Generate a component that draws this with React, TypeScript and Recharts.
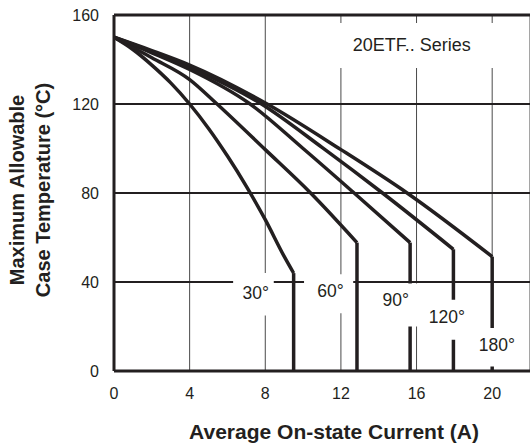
import React from 'react'
import {
  LineChart,
  Line,
  XAxis,
  YAxis,
  CartesianGrid,
  ReferenceArea,
  ReferenceDot,
  ReferenceLine,
} from 'recharts'

// axis ticks
const xTicks = [0, 4, 8, 12, 16, 20]
const yTicks = [0, 40, 80, 120, 160]

// conduction angle series (average current A -> max case temp °C)
const current30 = [0, 1, 2, 3, 4, 5, 6, 7, 8, 9, 9.5]
const temp30 = [150, 144.5, 137.5, 129.5, 120, 109, 96.6, 83, 68, 51.5, 44]

const current60 = [0, 2, 4, 5.45, 8, 10.4, 12.85]
const temp60 = [150, 140.8, 131, 120, 99.5, 80, 57.7]

const current90 = [0, 2, 4, 7.2, 10, 12.7, 15.66]
const temp90 = [150, 143, 135.5, 120, 100, 80, 57.7]

const current120 = [0, 2, 4, 7.8, 11, 14.2, 17.95]
const temp120 = [150, 143.5, 136.5, 120, 100.5, 80, 54.7]

const current180 = [0, 2, 4, 8.1, 12, 15.5, 20]
const temp180 = [150, 144, 137.5, 120, 99.5, 80, 51.4]

const seriesNames = ['30°', '60°', '90°', '120°', '180°']
const seriesTitle = '20ETF.. Series'

const INK = '#231f20'
const FONT = '"Liberation Sans", Arial, Helvetica, sans-serif'

// white boxes behind the in-plot labels (these cut the grid and the drop lines)
const LABEL_BOXES = [
  { x1: 6.3, x2: 8.45, y1: 25, y2: 44 },
  { x1: 10.05, x2: 12.65, y1: 26, y2: 43.5 },
  { x1: 13.7, x2: 16.3, y1: 20, y2: 39.3 },
  { x1: 16.5, x2: 18.7, y1: 14, y2: 32 },
  { x1: 19.1, x2: 21.4, y1: 2, y2: 19.3 },
]
const LABEL_AT = [
  { x: 7.5, y: 35 },
  { x: 11.45, y: 36 },
  { x: 14.9, y: 32 },
  { x: 17.6, y: 24.4 },
  { x: 20.25, y: 11.7 },
]
const TITLE_BOX = { x1: 11.7, x2: 20.6, y1: 136.2, y2: 156.4 }
const TITLE_AT = { x: 15.75, y: 146.5 }

const toPoints = (xs: number[], ys: number[]) => xs.map((x, i) => ({ x, y: ys[i] }))

const series = [
  toPoints(current30, temp30),
  toPoints(current60, temp60),
  toPoints(current90, temp90),
  toPoints(current120, temp120),
  toPoints(current180, temp180),
]

// each curve drops straight down to 0 at its last current value
const drops = series.map(pts => {
  const last = pts[pts.length - 1]
  return [last, { x: last.x, y: 0 }]
})

const YTitle = (props: any) => {
  const vb = props.viewBox || { x: 0, y: 15, width: 114, height: 356 }
  const cy = vb.y + vb.height / 2 - 3
  const lines = ['Maximum Allowable', 'Case Temperature (°C)']
  const xs = [vb.x + 17, vb.x + 43]
  return (
    <g>
      {lines.map((t, i) => (
        <text
          key={t}
          x={xs[i]}
          y={cy}
          transform={`rotate(-90, ${xs[i]}, ${cy})`}
          textAnchor="middle"
          dominantBaseline="central"
          fontSize={20}
          fontWeight="bold"
          fill={INK}
        >
          {t}
        </text>
      ))}
    </g>
  )
}

const XTitle = (props: any) => {
  const vb = props.viewBox || { x: 114, y: 371, width: 416, height: 75 }
  return (
    <text
      x={vb.x + 220}
      y={vb.y + 60}
      textAnchor="middle"
      dominantBaseline="central"
      fontSize={21}
      fontWeight="bold"
      fill={INK}
    >
      Average On-state Current (A)
    </text>
  )
}

export default function App() {
  return (
    <div style={{ position: 'absolute', left: 0, top: 0, width: 530, height: 446, background: '#fff', fontFamily: FONT }}>
      <LineChart width={530} height={446} margin={{ top: 15, right: 0, bottom: 0, left: 0 }}>
        <CartesianGrid horizontal={false} stroke="#4a4a4a" strokeWidth={1} />
        <CartesianGrid vertical={false} stroke={INK} strokeWidth={2} />
        <XAxis
          type="number"
          dataKey="x"
          domain={[0, 22]}
          ticks={xTicks}
          height={75}
          tickLine={false}
          tickSize={6}
          tickMargin={11}
          axisLine={{ stroke: INK, strokeWidth: 3 }}
          tick={{ fontSize: 16, fill: INK }}
          label={<XTitle />}
        />
        <YAxis
          type="number"
          dataKey="y"
          domain={[0, 160]}
          ticks={yTicks}
          width={114}
          tickLine={false}
          tickSize={6}
          tickMargin={9}
          axisLine={{ stroke: INK, strokeWidth: 3 }}
          tick={{ fontSize: 16, fill: INK }}
          label={<YTitle />}
        />
        <ReferenceLine y={160} stroke={INK} strokeWidth={3} />

        {series.map((pts, i) => (
          <Line
            key={`curve-${i}`}
            data={pts}
            dataKey="y"
            type="monotone"
            stroke={INK}
            strokeWidth={3.5}
            dot={false}
            activeDot={false}
            isAnimationActive={false}
          />
        ))}
        {drops.map((pts, i) => (
          <Line
            key={`drop-${i}`}
            data={pts}
            dataKey="y"
            type="linear"
            stroke={INK}
            strokeWidth={3.5}
            dot={false}
            activeDot={false}
            isAnimationActive={false}
          />
        ))}

        {LABEL_BOXES.map((b, i) => (
          <ReferenceArea
            key={`box-${i}`}
            x1={b.x1}
            x2={b.x2}
            y1={b.y1}
            y2={b.y2}
            fill="#fff"
            fillOpacity={1}
            stroke="none"
            ifOverflow="visible"
            zIndex={1000}
          />
        ))}
        <ReferenceArea
          x1={TITLE_BOX.x1}
          x2={TITLE_BOX.x2}
          y1={TITLE_BOX.y1}
          y2={TITLE_BOX.y2}
          fill="#fff"
          fillOpacity={1}
          stroke="none"
          ifOverflow="visible"
          zIndex={1000}
        />

        {seriesNames.map((name, i) => (
          <ReferenceDot
            key={`lbl-${i}`}
            x={LABEL_AT[i].x}
            y={LABEL_AT[i].y}
            r={0}
            fill="none"
            stroke="none"
            zIndex={1100}
            label={{ value: name, position: 'center', fontSize: 17.5, fill: INK }}
          />
        ))}
        <ReferenceDot
          x={TITLE_AT.x}
          y={TITLE_AT.y}
          r={0}
          fill="none"
          stroke="none"
          zIndex={1100}
          label={{ value: seriesTitle, position: 'center', fontSize: 18, fill: INK }}
        />
      </LineChart>
    </div>
  )
}
